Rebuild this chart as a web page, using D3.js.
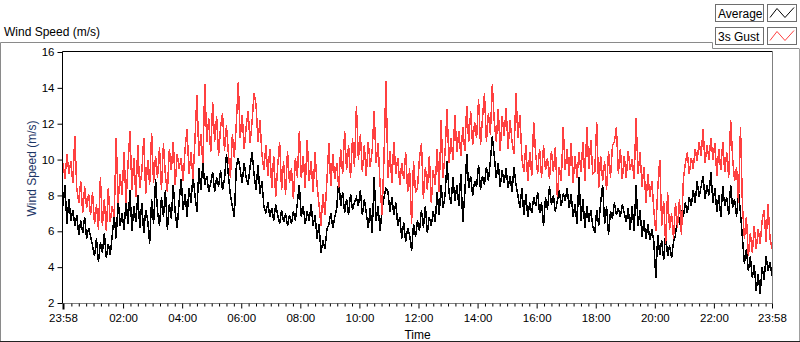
<!DOCTYPE html>
<html>
<head>
<meta charset="utf-8">
<script src="https://cdn.jsdelivr.net/npm/d3@7"></script>
<style>
  body { margin: 0; background: #fff; }
  svg { display: block; font-family: "Liberation Sans", Arial, sans-serif; }
</style>
</head>
<body>
<svg id="chart" width="800" height="342"></svg>
<script>
// one sample every 4 minutes, starting at 23:58 (15 per hour, plus the last one)
const sampleMinutes = 4;

const gustSpeed = [
  9.8, 8.9, 10.3, 9.2, 9.9, 8.7, 11.3, 8.4, 7.6, 8.8, 7.0, 8.5, 7.3, 8.1, 6.9,
  8.2, 6.4, 7.5, 6.1, 9.0, 6.3, 7.8, 6.0, 8.4, 6.5, 7.4, 6.8, 11.2, 7.6, 9.2,
  8.0, 10.4, 7.6, 9.7, 11.6, 8.3, 10.1, 7.9, 10.8, 8.4, 9.3, 11.2, 8.1, 10.0, 8.6,
  11.5, 8.7, 10.2, 9.0, 10.7, 8.3, 10.9, 9.1, 8.2, 10.6, 9.4, 11.0, 8.6, 10.3, 9.5,
  10.1, 8.8, 10.6, 11.7, 9.2, 10.4, 8.9, 11.1, 13.6, 10.2, 11.4, 9.8, 14.2, 11.0, 12.3,
  10.4, 13.2, 11.0, 12.4, 10.2, 11.8, 12.6, 10.5, 11.9, 10.3, 9.0, 11.4, 10.1, 12.0, 14.3,
  11.2, 12.5, 10.6, 11.8, 12.7, 10.9, 12.1, 13.7, 13.1, 11.0, 12.2, 10.3, 9.4, 10.8, 9.1,
  10.6, 8.4, 10.2, 7.9, 9.6, 11.0, 8.3, 9.9, 8.0, 10.5, 8.7, 9.5, 7.8, 10.1, 9.0,
  11.6, 9.0, 10.2, 8.4, 11.1, 8.8, 9.9, 8.2, 10.4, 8.6, 7.5, 6.3, 8.1, 6.9, 8.8,
  10.9, 8.5, 10.3, 8.9, 9.8, 8.4, 10.6, 9.2, 11.6, 9.4, 10.8, 9.0, 11.2, 9.6, 13.0,
  10.0, 11.4, 9.3, 10.8, 9.1, 11.0, 9.6, 10.5, 12.7, 9.8, 10.9, 8.6, 6.9, 10.2, 14.4,
  9.0, 10.5, 8.7, 11.0, 9.2, 10.1, 8.6, 9.8, 8.9, 10.4, 8.2, 9.5, 6.4, 9.9, 8.2,
  8.4, 10.1, 10.9, 7.8, 9.6, 8.3, 10.2, 7.6, 9.4, 8.6, 10.6, 8.2, 12.2, 9.0, 10.4,
  12.8, 9.8, 11.2, 10.0, 12.5, 10.4, 11.6, 10.2, 11.8, 10.5, 13.0, 11.0, 12.7, 10.8, 12.1,
  11.2, 13.4, 10.8, 12.3, 13.7, 11.0, 12.6, 11.4, 14.2, 12.1, 11.0, 12.8, 10.5, 12.4, 11.3,
  12.9, 10.6, 12.2, 11.0, 10.3, 13.7, 11.2, 12.5, 10.1, 9.3, 10.8, 8.8, 10.4, 9.1, 12.1,
  10.3, 9.2, 10.6, 9.0, 10.8, 9.4, 10.1, 8.9, 10.5, 9.3, 10.7, 7.9, 9.6, 8.8, 11.8,
  9.4, 10.6, 9.1, 10.9, 8.7, 10.2, 9.0, 10.4, 9.3, 11.0, 8.8, 11.8, 9.5, 11.1, 9.2,
  9.3, 12.1, 8.4, 10.2, 8.8, 9.9, 8.3, 10.5, 9.0, 10.8, 11.0, 11.8, 9.2, 10.6, 8.9,
  10.2, 9.0, 10.5, 9.4, 10.0, 8.9, 12.3, 9.2, 10.4, 8.5, 9.6, 7.6, 9.2, 7.9, 8.8,
  7.2, 6.0, 8.4, 10.0, 6.3, 7.7, 5.3, 8.2, 6.1, 7.0, 5.6, 7.6, 6.2, 7.8, 5.8,
  8.9, 9.8, 10.4, 9.2, 10.1, 9.5, 10.6, 9.9, 11.0, 10.2, 11.7, 9.8, 10.8, 10.0, 11.2,
  10.0, 10.9, 9.1, 10.6, 9.4, 11.0, 9.3, 10.4, 9.0, 12.2, 10.1, 8.8, 9.6, 7.6, 11.8,
  7.4, 5.6, 6.8, 4.6, 5.9, 4.8, 6.3, 5.0, 6.1, 5.3, 6.6, 7.2, 5.4, 7.5, 5.6, 5.0
];

const avgSpeed = [
  7.4, 8.6, 6.4, 7.8, 6.6, 7.2, 6.3, 6.9, 5.8, 6.6, 5.9, 6.8, 5.6, 6.2, 5.7,
  5.2, 4.6, 5.6, 4.3, 5.4, 4.8, 5.9, 4.5, 5.3, 4.7, 5.8, 6.9, 5.6, 7.8, 6.3,
  7.0, 6.1, 7.7, 6.4, 8.3, 6.0, 7.4, 6.5, 8.0, 6.2, 7.6, 5.9, 7.2, 6.6, 5.3,
  7.8, 6.4, 8.9, 7.1, 6.3, 7.9, 6.8, 8.3, 6.1, 7.5, 6.7, 8.6, 7.0, 6.2, 7.7,
  8.9, 7.2, 8.1, 6.8, 8.4, 7.6, 9.2, 8.0, 7.1, 9.5, 8.3, 9.8, 8.6, 9.1, 8.2,
  8.7, 9.3, 8.2, 9.0, 8.5, 9.4, 8.3, 8.9, 10.3, 9.1, 8.0, 7.4, 6.8, 9.6, 10.1,
  9.4, 8.7, 9.8, 9.0, 8.6, 9.6, 10.4, 9.2, 8.3, 9.7, 8.1, 8.8, 7.4, 7.0, 7.6,
  6.8, 7.3, 6.6, 7.5, 6.9, 6.4, 7.2, 6.5, 7.0, 6.3, 6.9, 6.4, 7.1, 6.6, 7.6,
  8.6, 6.8, 7.4, 6.4, 7.1, 6.6, 7.5, 6.3, 6.9, 5.6, 6.4, 4.8, 5.5, 5.0, 6.1,
  6.4, 7.0, 6.2, 6.8, 7.3, 8.9, 7.4, 8.2, 7.0, 7.8, 6.9, 8.1, 7.2, 7.6, 7.9,
  7.4, 8.3, 6.9, 7.8, 7.0, 6.2, 7.3, 5.9, 9.0, 6.6, 7.4, 6.0, 7.2, 7.9, 8.4,
  8.2, 7.1, 7.9, 6.9, 7.6, 6.3, 6.8, 5.6, 6.5, 5.4, 6.2, 5.8, 4.9, 6.4, 5.7,
  6.6, 6.0, 7.2, 6.2, 7.4, 5.9, 6.8, 6.3, 7.1, 6.5, 8.2, 6.9, 8.6, 7.3, 8.0,
  9.9, 8.2, 7.5, 9.0, 7.7, 8.6, 7.4, 9.2, 6.5, 8.1, 10.3, 8.4, 9.1, 8.0, 8.8,
  8.5, 9.7, 8.3, 9.1, 8.6, 9.6, 8.8, 9.9, 11.3, 10.2, 9.0, 9.8, 8.5, 9.4, 8.7,
  9.5, 8.4, 9.1, 8.2, 9.6, 8.6, 8.0, 7.3, 8.4, 6.9, 8.1, 6.8, 7.6, 7.0, 7.9,
  7.4, 8.2, 7.0, 7.6, 6.3, 7.9, 7.2, 8.5, 7.5, 8.0, 7.1, 7.7, 8.3, 7.4, 8.1,
  7.7, 8.4, 7.3, 8.1, 6.8, 7.5, 6.4, 9.0, 6.6, 7.8, 6.2, 7.4, 6.5, 7.2, 6.3,
  5.9, 7.2, 6.3, 7.6, 8.6, 6.4, 7.4, 5.8, 7.1, 6.7, 7.6, 6.9, 7.3, 6.8, 7.5,
  7.0, 6.5, 7.3, 6.1, 7.4, 6.0, 8.6, 6.3, 7.2, 5.7, 6.6, 5.6, 6.4, 5.5, 6.1,
  5.4, 3.4, 5.8, 4.7, 5.5, 4.4, 5.9, 4.6, 5.2, 4.5, 5.4, 5.8, 6.8, 6.5, 7.2,
  6.8, 7.6, 7.0, 7.9, 7.4, 8.3, 7.6, 8.8, 7.9, 8.5, 9.1, 7.8, 8.6, 8.0, 9.3,
  7.6, 8.4, 7.1, 8.0, 6.8, 8.5, 7.4, 7.9, 6.9, 8.6, 7.3, 7.8, 6.8, 8.2, 7.0,
  5.6, 4.2, 5.0, 3.8, 4.6, 3.4, 4.1, 2.7, 3.6, 2.5, 4.0, 3.3, 4.6, 3.8, 4.3, 3.5
];

const xTickMinutes = [0, 122, 242, 362, 482, 602, 722, 842, 962, 1082, 1202, 1322, 1440];
const xTickLabels = ["23:58", "02:00", "04:00", "06:00", "08:00", "10:00", "12:00",
                     "14:00", "16:00", "18:00", "20:00", "22:00", "23:58"];
const yTickValues = [2, 4, 6, 8, 10, 12, 14, 16];
const seriesNames = ["Average", "3s Gust"];
const seriesColors = ["#000000", "#ff4040"];

const svg = d3.select("#chart");

const plot = { left: 62.5, right: 772.5, top: 51.5, bottom: 303.5 };
const x = d3.scaleLinear().domain([0, 1440]).range([63, 772]);
const y = d3.scaleLinear().domain([2, 16]).range([303, 52]);

// outer frame
svg.append("path")
  .attr("d", `M0.5,341 V42.5 H712.5 V48.5 H799`)
  .attr("fill", "none").attr("stroke", "#8a8a8a");
svg.append("path")
  .attr("d", `M799.5,48.5 V341.5 H0`)
  .attr("fill", "none").attr("stroke", "#a0a0a0");
svg.append("line")
  .attr("x1", 0).attr("x2", 800).attr("y1", 341.5).attr("y2", 341.5)
  .attr("stroke", "#222");

svg.append("text")
  .attr("x", 4).attr("y", 35.5)
  .style("font-size", "12px")
  .text("Wind Speed (m/s)");

// plot lines
svg.append("defs").append("clipPath").attr("id", "clip")
  .append("rect")
  .attr("x", plot.left).attr("y", plot.top)
  .attr("width", plot.right - plot.left).attr("height", plot.bottom - plot.top);

const line = d3.line()
  .x((d, i) => x(i * sampleMinutes))
  .y(d => y(d));

const lines = svg.append("g").attr("clip-path", "url(#clip)");
[avgSpeed, gustSpeed].forEach((s, k) => {
  lines.append("path")
    .datum(s)
    .attr("fill", "none")
    .attr("stroke", seriesColors[k])
    .attr("stroke-width", 1.5)
    .attr("shape-rendering", "crispEdges")
    .attr("d", line);
});

// plot frame: dark top/left, grey bottom/right
svg.append("path")
  .attr("d", `M${plot.left},${plot.bottom} V${plot.top} H${plot.right}`)
  .attr("fill", "none").attr("stroke", "#000");
svg.append("path")
  .attr("d", `M${plot.right},${plot.top} V${plot.bottom} H${plot.left}`)
  .attr("fill", "none").attr("stroke", "#808080");

// y axis
const yAxis = svg.append("g")
  .attr("transform", `translate(${plot.left},0)`)
  .call(d3.axisLeft(y).tickValues(yTickValues).tickSize(5).tickPadding(3));
yAxis.select(".domain").remove();
yAxis.selectAll("text").style("font-size", "11.5px").attr("fill", "#000");

svg.append("text")
  .attr("transform", "translate(35.5,168.5) rotate(-90)")
  .attr("text-anchor", "middle")
  .attr("fill", "#1c3566")
  .style("font-size", "12px")
  .text("Wind Speed (m/s)");

// x axis: minor ticks every 15 minutes
const minorTicks = d3.range(17, 1440, 15).filter(m => !xTickMinutes.includes(m));
const xMinor = svg.append("g")
  .attr("transform", `translate(0,${plot.bottom})`)
  .call(d3.axisBottom(x).tickValues(minorTicks).tickSize(3).tickFormat(""));
xMinor.select(".domain").remove();

const xAxis = svg.append("g")
  .attr("transform", `translate(0,${plot.bottom})`)
  .call(d3.axisBottom(x).tickValues(xTickMinutes).tickSize(5).tickPadding(5)
    .tickFormat((d, i) => xTickLabels[i]));
xAxis.select(".domain").remove();
xAxis.selectAll("text").style("font-size", "11.5px").attr("fill", "#000");
xAxis.selectAll(".tick line").filter((d, i) => i === 0)
  .attr("stroke-width", 2).attr("y2", 6);

svg.append("text")
  .attr("x", (plot.left + plot.right) / 2).attr("y", 339)
  .attr("text-anchor", "middle")
  .style("font-size", "12px")
  .text("Time");

// legend
const legend = svg.append("g");
seriesNames.forEach((name, i) => {
  const top = 4.5 + i * 23;
  const g = legend.append("g").attr("transform", `translate(0,${top})`);
  g.append("rect")
    .attr("x", 715.5).attr("y", 0).attr("width", 48).attr("height", 17)
    .attr("fill", "#fff").attr("stroke", "#6e6e6e");
  g.append("text")
    .attr("x", 718).attr("y", 13)
    .style("font-size", "12px")
    .text(name);
  g.append("rect")
    .attr("x", 767.5).attr("y", 0).attr("width", 29).attr("height", 17)
    .attr("fill", "#fff").attr("stroke", "#6e6e6e");
  g.append("path")
    .attr("d", "M770,13 L777,4 L785,13 L794,3")
    .attr("fill", "none")
    .attr("stroke", seriesColors[i]);
});
</script>
</body>
</html>
